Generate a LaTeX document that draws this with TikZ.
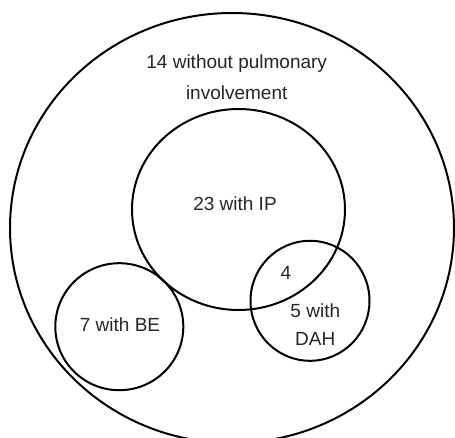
\documentclass[tikz,border=0pt]{standalone}
\usepackage{fontspec}
\setmainfont{Liberation Sans}
\usetikzlibrary{shapes.geometric}
\tikzset{
  setcircle/.style={draw=black, line width=2pt, ellipse, inner sep=0pt},
  lbl/.style={font=\fontsize{19}{23}\selectfont, text=black!85, inner sep=0pt, align=center}
}
\begin{document}
\begin{tikzpicture}[x=1pt,y=-1pt]
\useasboundingbox[fill=white] (0,0) rectangle (455,438);
\node[setcircle, minimum width=444pt, minimum height=430pt] (all) at (232,228) {};
\node[setcircle, minimum width=213pt, minimum height=201pt] (ip) at (238.5,209.5) {};
\node[setcircle, minimum width=128pt, minimum height=127pt] (be) at (119.3,326.7) {};
\node[setcircle, minimum width=119pt, minimum height=120pt] (dah) at (310,300.8) {};
\node[lbl] (t1) at (236.7,64) {14 without pulmonary};
\node[lbl] (t2) at (236.7,92.7) {involvement};
\node[lbl] (tip) at (235,204) {23 with IP};
\node[lbl] (t4) at (286,272.7) {4};
\node[lbl] (t5a) at (315.3,310.7) {5 with};
\node[lbl] (t5b) at (315.3,339) {DAH};
\node[lbl] (tbe) at (120,324.3) {7 with BE};
\end{tikzpicture}
\end{document}
